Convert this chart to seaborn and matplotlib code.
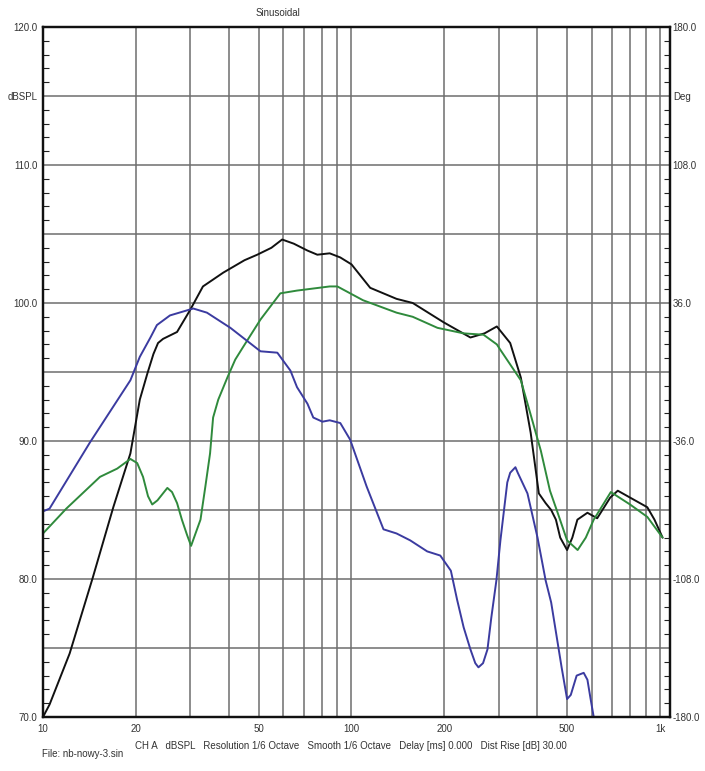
import matplotlib
matplotlib.use("Agg")
import matplotlib.pyplot as plt
import seaborn as sns
import pandas as pd
import numpy as np

# -------- Data --------
black_f = [10, 10.5, 12.2, 14.5, 16.9, 19.2, 20.6, 21.8, 22.8, 23.6, 24.5, 27.2, 30, 33, 35.6, 38.4, 45, 49.5,
           55, 59.6, 65, 72, 77.5, 85, 92, 100, 115, 140, 158, 199, 243, 270, 296, 327, 354,
           381, 405, 426, 444, 460, 475, 500, 520, 540, 582, 626, 690, 730, 800, 910, 960, 1020]
black_db = [70.0, 70.9, 74.6, 80.1, 85.2, 89.1, 93.0, 94.9, 96.3, 97.1, 97.4, 97.9, 99.5, 101.2, 101.7, 102.2, 103.1, 103.5,
            104.0, 104.6, 104.3, 103.8, 103.5, 103.6, 103.3, 102.8, 101.1, 100.3, 100.0, 98.6, 97.5, 97.8, 98.3, 97.1, 94.6,
            90.6, 86.2, 85.5, 85.0, 84.3, 83.0, 82.1, 83.0, 84.3, 84.8, 84.4, 85.9, 86.4, 85.9, 85.2, 84.3, 83.0]

green_f = [10, 11.9, 15.3, 17.4, 19.2, 20.2, 21.1, 21.9, 22.6, 23.5, 25.3, 26.2, 27.2, 28.2, 29.3, 30.2, 32.4, 33.6,
           34.8, 35.6, 37, 39.6, 42, 44.5, 50.7, 58.8, 66.6, 85, 90, 109, 140, 158, 190, 231, 268, 296, 304, 354,
           380, 411, 440, 466, 500, 541, 575, 610, 693, 800, 910, 1020]
green_db = [83.3, 85.1, 87.4, 88.0, 88.7, 88.4, 87.4, 86.0, 85.4, 85.7, 86.6, 86.3, 85.5, 84.3, 83.2, 82.4, 84.3, 86.7,
            89.1, 91.7, 93.0, 94.6, 95.9, 96.8, 98.8, 100.7, 100.9, 101.2, 101.2, 100.2, 99.3, 99.0, 98.2, 97.8, 97.7, 97.0, 96.6, 94.4,
            92.0, 89.3, 86.4, 84.8, 82.8, 82.1, 83.0, 84.3, 86.3, 85.4, 84.5, 83.0]

blue_f = [10, 10.5, 14.2, 19.2, 20.6, 22.3, 23.4, 25.8, 30.7, 34, 40.5, 50.7, 57.5, 63.4, 66.6, 72, 75.2, 80.5,
          85, 92, 99, 112, 127, 140, 155, 176, 194, 210, 220, 231, 243, 252, 258, 267, 276, 284, 295, 304, 320,
          327, 340, 346, 372, 401, 426, 444, 480, 500, 514, 537, 566, 582, 595, 610, 640]
blue_db = [84.9, 85.1, 89.9, 94.4, 96.1, 97.5, 98.4, 99.1, 99.6, 99.3, 98.2, 96.5, 96.4, 95.1, 93.9, 92.7, 91.7, 91.4,
           91.5, 91.3, 90.1, 86.7, 83.6, 83.3, 82.8, 82.0, 81.7, 80.6, 78.5, 76.5, 74.9, 73.9, 73.6, 73.9, 74.9, 77.2, 79.9, 82.8, 87.0,
           87.7, 88.1, 87.7, 86.2, 83.0, 79.9, 78.3, 73.6, 71.3, 71.6, 73.0, 73.2, 72.7, 71.4, 70.0, 68.0]

x_ticks = [10, 20, 50, 100, 200, 500, 1000]
x_labels = ["10", "20", "50", "100", "200", "500", "1k"]
x_minor = [30, 40, 60, 70, 80, 90, 300, 400, 600, 700, 800, 900]
left_ticks = [70, 75, 80, 85, 90, 95, 100, 105, 110, 115, 120]
left_labels = ["70.0", "", "80.0", "", "90.0", "", "100.0", "", "110.0", "dBSPL", "120.0"]
right_ticks = [-180, -144, -108, -72, -36, 0, 36, 72, 108, 144, 180]
right_labels = ["-180.0", "", "-108.0", "", "-36.0", "", "36.0", "", "108.0", "Deg", "180.0"]

# -------- Style --------
sns.set_style("white")
plt.rcParams["font.family"] = ["Liberation Sans", "DejaVu Sans"]
plt.rcParams["font.size"] = 7

fig = plt.figure(figsize=(7.05, 7.71), dpi=100)
ax = fig.add_axes([43 / 705, 1 - 717 / 771, (670 - 43) / 705, (717 - 27) / 771])

# grid
grid_c = "#6e6e6e"
ax.set_xscale("log")
ax.set_xlim(10, 1078)
ax.set_ylim(70, 120)
ax.set_xticks(x_ticks)
ax.set_xticklabels(x_labels)
ax.set_xticks(x_minor, minor=True)
ax.set_xticklabels([], minor=True)
ax.set_yticks(left_ticks)
ax.set_yticklabels(left_labels)
ax.set_yticks(np.arange(70, 121, 1), minor=True)
ax.grid(True, which="both", axis="x", color=grid_c, lw=1.1)
ax.grid(True, which="major", axis="y", color=grid_c, lw=1.1)
ax.tick_params(axis="x", which="both", length=0, pad=5, labelsize=7, colors="#333333")
ax.tick_params(axis="y", which="major", length=0, pad=4, labelsize=7, colors="#333333")
ax.tick_params(axis="y", which="minor", length=4, width=0.8, direction="in", color="#222222")
ax.set_axisbelow(True)

# -------- Curves --------
series = [(black_f, black_db, "#111111"), (green_f, green_db, "#2f8a3c"), (blue_f, blue_db, "#3b3ba0")]
for f, db, c in series:
    d = pd.DataFrame({"f": f, "db": db})
    sns.lineplot(data=d, x="f", y="db", ax=ax, color=c, lw=1.4, sort=False, estimator=None)
ax.set_xlabel("")
ax.set_ylabel("")

for s in ax.spines.values():
    s.set_linewidth(1.6)
    s.set_color("#111111")

# right axis in degrees
ax2 = ax.twinx()
ax2.set_ylim(-180, 180)
ax2.set_yticks(right_ticks)
ax2.set_yticklabels(right_labels)
ax2.set_yticks(np.arange(-180, 180.1, 7.2), minor=True)
ax2.tick_params(axis="y", which="major", length=0, pad=2, labelsize=7, colors="#333333")
ax2.tick_params(axis="y", which="minor", length=4, width=0.8, direction="in", color="#222222")
ax2.grid(False)
for s in ax2.spines.values():
    s.set_linewidth(1.6)
    s.set_color("#111111")

# -------- Text --------
fig.text(278 / 705, 1 - 13 / 771, "Sinusoidal", ha="center", va="center", fontsize=7, color="#333333")
fig.text(135 / 705, 1 - 746 / 771,
         "CH A   dBSPL   Resolution 1/6 Octave   Smooth 1/6 Octave   Delay [ms] 0.000   Dist Rise [dB] 30.00",
         ha="left", va="center", fontsize=7, color="#333333")
fig.text(42 / 705, 1 - 754 / 771, "File: nb-nowy-3.sin", ha="left", va="center", fontsize=7, color="#333333")

fig.savefig("out.png", dpi=100, facecolor="white")
